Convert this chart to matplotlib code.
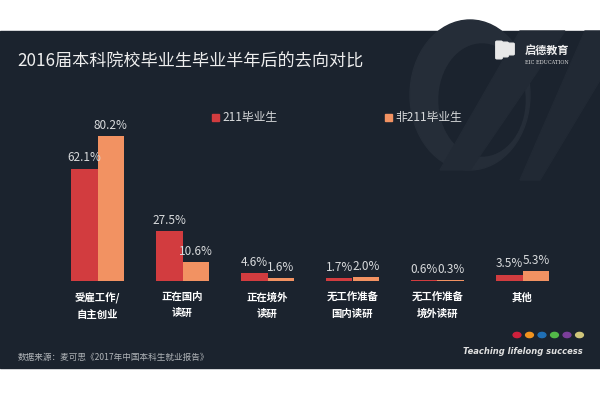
import matplotlib.pyplot as plt
import matplotlib.patches as mpatches
import numpy as np

plt.rcParams['font.family'] = ['Noto Sans CJK SC', 'DejaVu Sans']

categories = ["受雇工作/\n自主创业", "正在国内\n读研", "正在境外\n读研",
              "无工作准备\n国内读研", "无工作准备\n境外读研", "其他"]
grad_211 = [62.1, 27.5, 4.6, 1.7, 0.6, 3.5]
grad_non211 = [80.2, 10.6, 1.6, 2.0, 0.3, 5.3]
series_names = ["211毕业生", "非211毕业生"]

BG = "#1b232e"
RED = "#d23c3f"
ORANGE = "#f29262"
W, H = 600, 400


def fx(p):
    return p / W


def fy(p):
    return 1 - p / H


fig = plt.figure(figsize=(6, 4), dpi=100)
fig.patch.set_facecolor("white")

# dark panel
fig.patches.append(mpatches.Rectangle((0, fy(368)), 1, fy(31) - fy(368),
                                      transform=fig.transFigure, color=BG, zorder=-5))
# faint decorative swooshes top right
fig.patches.append(mpatches.Ellipse((fx(470), fy(95)), fx(120), 150 / H, transform=fig.transFigure,
                                    color="#252d38", zorder=-4))
fig.patches.append(mpatches.Ellipse((fx(482), fy(100)), fx(86), 112 / H, transform=fig.transFigure,
                                    color=BG, zorder=-3.9))
fig.patches.append(mpatches.Polygon([(fx(520), fy(31)), (fx(565), fy(31)), (fx(470), fy(170)), (fx(440), fy(170))],
                                    closed=True, transform=fig.transFigure, color="#222a35", zorder=-3.8))
fig.patches.append(mpatches.Polygon([(fx(585), fy(31)), (fx(600), fy(31)), (fx(600), fy(80)), (fx(540), fy(180)), (fx(520), fy(180))],
                                    closed=True, transform=fig.transFigure, color="#212934", zorder=-3.8))

# axes: 85 px per category, 1.81 px per percent
ax = fig.add_axes([fx(40), fy(281), fx(540), (281 - 101) / H])
ax.set_zorder(2)
ax.set_facecolor("none")
x = np.arange(len(categories))
bw = 0.315
b1 = ax.bar(x - bw / 2, grad_211, bw, color=RED, label=series_names[0])
b2 = ax.bar(x + bw / 2, grad_non211, bw, color=ORANGE, label=series_names[1])
ax.set_xlim(-57.5 / 85, -57.5 / 85 + 540 / 85)
ax.set_ylim(0, 180 / 1.81)
for bars in (b1, b2):
    for r in bars:
        ax.annotate(f"{r.get_height():.1f}%", (r.get_x() + r.get_width() / 2, r.get_height()),
                    xytext=(0, 3), textcoords="offset points", ha="center", va="bottom",
                    color="#d8dadc", fontsize=8.5)
for s in ax.spines.values():
    s.set_visible(False)
ax.set_yticks([])
ax.set_xticks(x)
ax.set_xticklabels(categories, color="white", fontsize=7.5, fontweight="bold", linespacing=1.75)
ax.tick_params(axis="x", length=0, pad=8)

# legend
for px, col, name in [(215, RED, series_names[0]), (388, ORANGE, series_names[1])]:
    fig.patches.append(mpatches.Rectangle((fx(px - 3.5), fy(120.5)), fx(7), 7 / H,
                                          transform=fig.transFigure, color=col))
    fig.text(fx(px + 7), fy(117), name, color="#d8dadc", fontsize=8.5, va="center", ha="left")

# title
fig.text(fx(17), fy(62), "2016届本科院校毕业生毕业半年后的去向对比", color="#eeeeee",
         fontsize=12.3, va="center", ha="left")

# logo: slanted white strokes + name
for i in range(3):
    x0 = 497 + 6 * i
    fig.patches.append(mpatches.FancyBboxPatch((fx(x0), fy(58 - 2 * i)), fx(4), (16 - 3 * i) / H,
                                               boxstyle="round,pad=0.002", transform=fig.transFigure,
                                               color="#e8e8e8", zorder=2))
fig.text(fx(525), fy(50), "启德教育", color="#eeeeee", fontsize=8, fontweight="bold",
         va="center", ha="left")
fig.text(fx(525), fy(62), "EIC EDUCATION", color="#dddddd", fontsize=3.6,
         va="center", ha="left", family="DejaVu Serif")

# footer
fig.text(fx(18), fy(357), "数据来源：麦可思《2017年中国本科生就业报告》", color="#b0b4b8",
         fontsize=6.2, va="center", ha="left")
dot_cols = ["#d0203c", "#f0921e", "#1f6fb5", "#52b848", "#7b3e9a", "#cfc57a"]
for i, c in enumerate(dot_cols):
    fig.patches.append(mpatches.Circle((fx(517 + 12.5 * i), fy(335)), 0.0065,
                                       transform=fig.transFigure, color=c, zorder=2))
fig.text(fx(583), fy(351), "Teaching lifelong success", color="#e0e0e0", fontsize=6,
         fontweight="bold", style="italic", va="center", ha="right", family="DejaVu Sans")

fig.savefig("out.png", dpi=100, facecolor="white")
